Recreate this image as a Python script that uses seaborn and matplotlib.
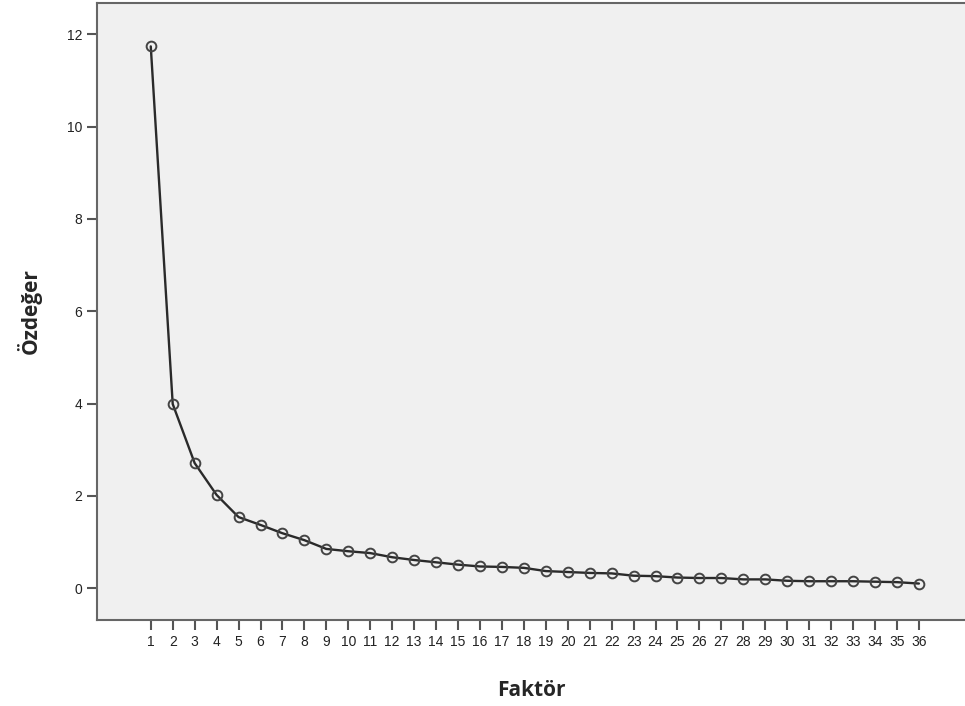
import pandas as pd
import matplotlib.pyplot as plt
import seaborn as sns

# Scree plot values
factors = list(range(1, 37))
eigenvalues = [11.74, 3.99, 2.71, 2.02, 1.54, 1.37, 1.19, 1.04, 0.85, 0.80,
               0.76, 0.67, 0.61, 0.56, 0.51, 0.47, 0.46, 0.44, 0.37, 0.35,
               0.33, 0.32, 0.27, 0.26, 0.23, 0.22, 0.22, 0.19, 0.19, 0.16,
               0.15, 0.15, 0.15, 0.14, 0.13, 0.10]
y_ticks = [0, 2, 4, 6, 8, 10, 12]

df = pd.DataFrame({"Faktör": factors, "Özdeğer": eigenvalues})

sns.set_style("ticks")
plt.rcParams['font.family'] = ['Liberation Sans', 'DejaVu Sans']

fig = plt.figure(figsize=(9.65, 7.06), dpi=100)
ax = fig.add_axes([97 / 965, 86 / 706, 868 / 965, 617 / 706])
ax.set_facecolor("#f0f0f0")

sns.lineplot(data=df, x="Faktör", y="Özdeğer", ax=ax, color="#2a2a2a",
             linewidth=1.7, marker="o", markersize=7, markerfacecolor="none",
             markeredgecolor="#444444", markeredgewidth=1.4)

ax.set_xlim(-1.45, 38.1)
ax.set_ylim(-0.69, 12.68)
ax.set_xticks(factors)
ax.set_xticklabels([str(f) for f in factors])
ax.set_yticks(y_ticks)

ax.tick_params(axis="both", direction="out", length=7, width=1.5,
               color="#555555", labelsize=10, labelcolor="#222222")
for side in ["left", "bottom", "top"]:
    ax.spines[side].set_color("#666666")
    ax.spines[side].set_linewidth(1.5)
ax.spines["right"].set_visible(False)

ax.set_xlabel("Faktör", fontsize=15, fontweight="bold", family=["Open Sans", "DejaVu Sans"])
ax.set_ylabel("Özdeğer", fontsize=15, fontweight="bold", family=["Open Sans", "DejaVu Sans"])
ax.xaxis.set_label_coords(0.5, -0.097)
ax.yaxis.set_label_coords(-0.064, 0.5)

fig.savefig("out.png", dpi=100)
